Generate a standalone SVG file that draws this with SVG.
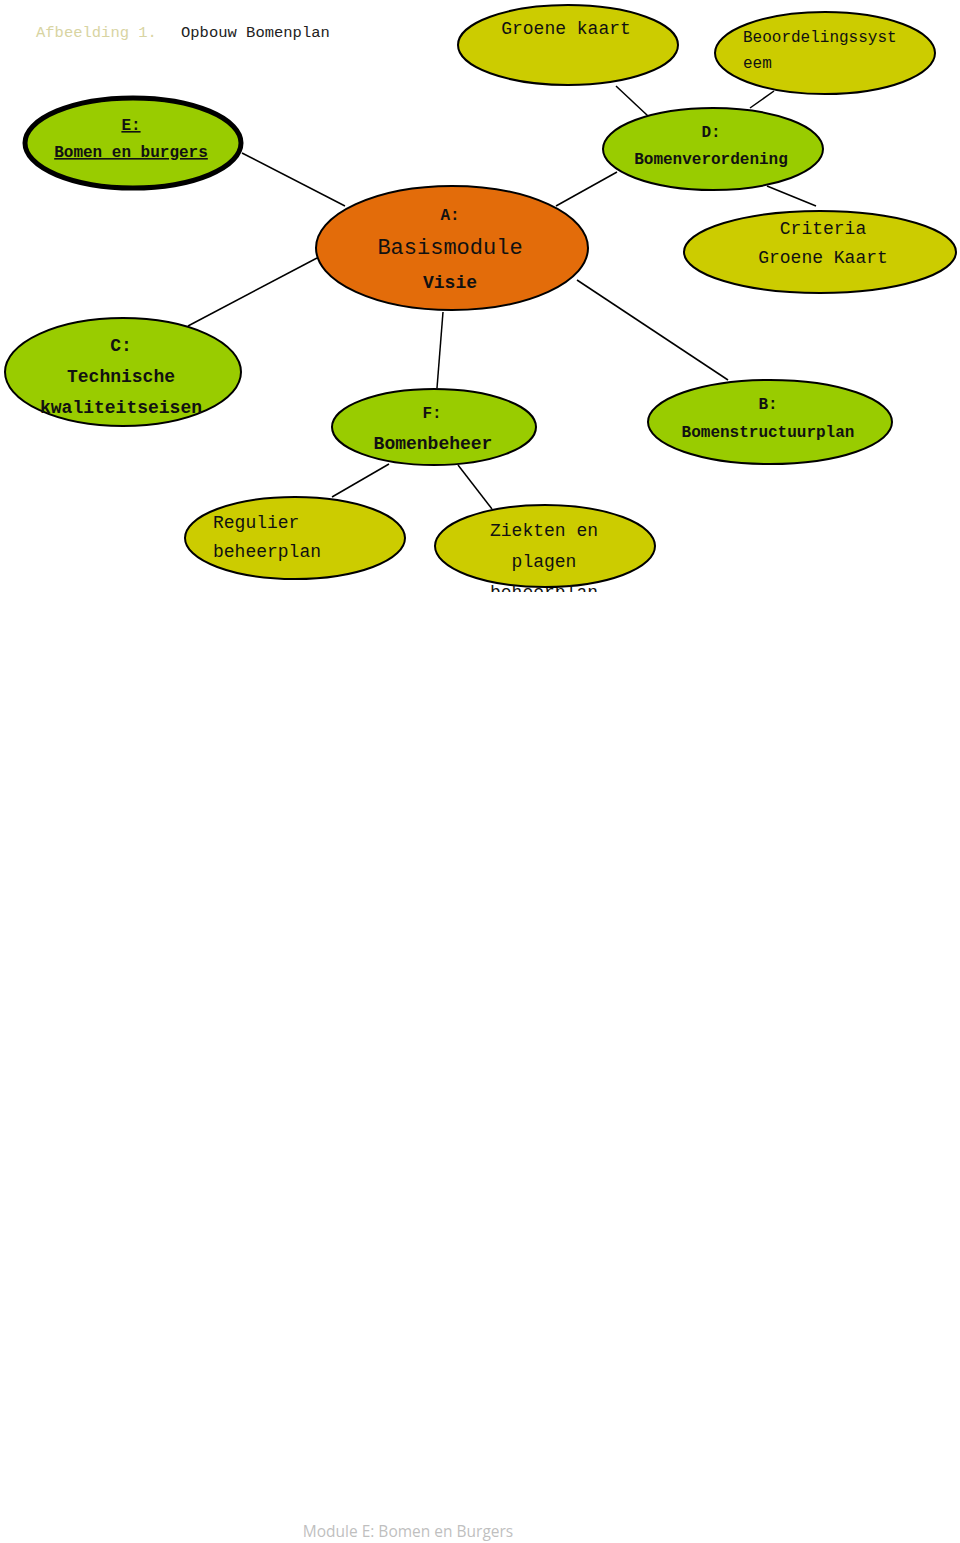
<svg xmlns="http://www.w3.org/2000/svg" width="960" height="1543" viewBox="0 0 960 1543">
<style>
.g{fill:#99CC00;stroke:#000;stroke-width:2}
.y{fill:#CCCC00;stroke:#000;stroke-width:2}
.o{fill:#E36C0A;stroke:#000;stroke-width:2}
.t{font-family:"Liberation Mono","Courier New",monospace;fill:#111;text-anchor:middle}
.b{font-weight:bold}
.l{stroke:#000;stroke-width:1.5;fill:none}
</style>
<defs>
<clipPath id="clipZ"><rect x="0" y="0" width="960" height="592"/></clipPath>
</defs>
<rect width="960" height="1543" fill="#fff"/>
<text x="36" y="37" style="font-family:'Liberation Mono',monospace;font-size:15.5px;fill:#D8D4A2">Afbeelding 1.</text>
<text x="181" y="37" style="font-family:'Liberation Mono',monospace;font-size:15.5px;fill:#222">Opbouw Bomenplan</text>
<g id="connectors">
<line class="l" x1="242" y1="153" x2="345" y2="206"/>
<line class="l" x1="556" y1="206" x2="617" y2="172"/>
<line class="l" x1="616" y1="86" x2="648" y2="116"/>
<line class="l" x1="750" y1="108" x2="774" y2="91"/>
<line class="l" x1="767" y1="186" x2="816" y2="206"/>
<line class="l" x1="317" y1="258" x2="188" y2="326"/>
<line class="l" x1="443" y1="312" x2="437" y2="388"/>
<line class="l" x1="577" y1="280" x2="728" y2="380"/>
<line class="l" x1="389" y1="464" x2="332" y2="497"/>
<line class="l" x1="458" y1="465" x2="492" y2="509"/>
</g>
<g id="node-groene-kaart">
<ellipse class="y" cx="568" cy="45" rx="110" ry="40"/>
<text class="t" x="566" y="34" font-size="18">Groene kaart</text>
</g>
<g id="node-beoordelingssysteem">
<ellipse class="y" cx="825" cy="53" rx="110" ry="41"/>
<text class="t" x="743" y="42" font-size="16" style="text-anchor:start">Beoordelingssyst</text>
<text class="t" x="743" y="68" font-size="16" style="text-anchor:start">eem</text>
</g>
<g id="node-E">
<ellipse cx="133" cy="143" rx="108" ry="45" fill="#99CC00" stroke="#000" stroke-width="5"/>
<text class="t b" x="131" y="130" font-size="16" text-decoration="underline">E:</text>
<text class="t b" x="131" y="157" font-size="16" text-decoration="underline">Bomen en burgers</text>
</g>
<g id="node-D">
<ellipse class="g" cx="713" cy="149" rx="110" ry="41"/>
<text class="t b" x="711" y="137" font-size="16">D:</text>
<text class="t b" x="711" y="164" font-size="16">Bomenverordening</text>
</g>
<g id="node-A">
<ellipse class="o" cx="452" cy="248" rx="136" ry="62"/>
<text class="t b" x="450" y="220" font-size="16">A:</text>
<text class="t" x="450" y="254" font-size="22">Basismodule</text>
<text class="t b" x="450" y="288" font-size="18">Visie</text>
</g>
<g id="node-criteria">
<ellipse class="y" cx="820" cy="252" rx="136" ry="41"/>
<text class="t" x="823" y="234" font-size="18">Criteria</text>
<text class="t" x="823" y="263" font-size="18">Groene Kaart</text>
</g>
<g id="node-C">
<ellipse class="g" cx="123" cy="372" rx="118" ry="54"/>
<text class="t b" x="121" y="351" font-size="18">C:</text>
<text class="t b" x="121" y="382" font-size="18">Technische</text>
<text class="t b" x="121" y="413" font-size="18">kwaliteitseisen</text>
</g>
<g id="node-F">
<ellipse class="g" cx="434" cy="427" rx="102" ry="38"/>
<text class="t b" x="432" y="418" font-size="16">F:</text>
<text class="t b" x="433" y="449" font-size="18">Bomenbeheer</text>
</g>
<g id="node-B">
<ellipse class="g" cx="770" cy="422" rx="122" ry="42"/>
<text class="t b" x="768" y="409" font-size="16">B:</text>
<text class="t b" x="768" y="437" font-size="16">Bomenstructuurplan</text>
</g>
<g id="node-regulier">
<ellipse class="y" cx="295" cy="538" rx="110" ry="41"/>
<text class="t" x="213" y="528" font-size="18" style="text-anchor:start">Regulier</text>
<text class="t" x="213" y="557" font-size="18" style="text-anchor:start">beheerplan</text>
</g>
<g id="node-ziekten">
<ellipse class="y" cx="545" cy="546" rx="110" ry="41"/>
<text class="t" x="544" y="536" font-size="18">Ziekten en</text>
<text class="t" x="544" y="567" font-size="18">plagen</text>
<text class="t" x="544" y="598" font-size="18" clip-path="url(#clipZ)">beheerplan</text>
</g>
<text x="408" y="1537" style="font-family:'Open Sans','Noto Sans',sans-serif;font-size:15.5px;fill:#BFBFBF;text-anchor:middle">Module E: Bomen en Burgers</text>
</svg>
